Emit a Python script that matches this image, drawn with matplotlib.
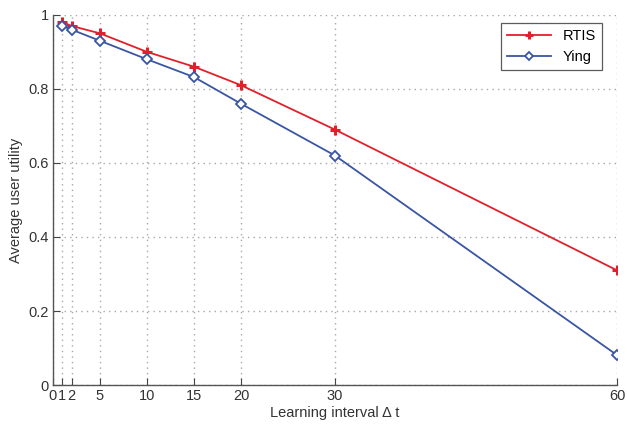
import matplotlib
matplotlib.use("Agg")
import matplotlib.pyplot as plt

plt.rcParams['font.family'] = ['Liberation Sans', 'DejaVu Sans']

x = [1, 2, 5, 10, 15, 20, 30, 60]
rtis = [0.98, 0.97, 0.95, 0.90, 0.86, 0.81, 0.69, 0.31]
ying = [0.97, 0.96, 0.93, 0.88, 0.832, 0.76, 0.62, 0.081]
xticks = [0, 1, 2, 5, 10, 15, 20, 30, 60]
yticks = [0, 0.2, 0.4, 0.6, 0.8, 1]
yticklabels = ['0', '0.2', '0.4', '0.6', '0.8', '1']

fig = plt.figure(figsize=(6.27, 4.25), dpi=100)
ax = fig.add_axes([0.0845, 0.094, 0.8995, 0.871])

red = '#e0202a'
blue = '#3a55a4'
ax.plot(x, rtis, color=red, lw=1.3, marker='+', ms=7, mew=2.2, label='RTIS')
ax.plot(x, ying, color=blue, lw=1.3, marker='D', ms=5.5, mfc='white', mec=blue, mew=1.3, label='Ying')

ax.set_xlim(0, 60)
ax.set_ylim(0, 1)
ax.set_xticks(xticks)
ax.set_xticklabels([str(t) for t in xticks])
ax.set_yticks(yticks)
ax.set_yticklabels(yticklabels)
ax.grid(True, linestyle=(0, (1, 3)), color='#a8a8a8', linewidth=1.0)
ax.tick_params(direction='in', length=5, color='#444444', labelsize=10.5, labelcolor='#333333', pad=3)
for s in ['top', 'right']:
    ax.spines[s].set_visible(False)
for s in ['left', 'bottom']:
    ax.spines[s].set_color('#555555')
    ax.spines[s].set_linewidth(1.0)

ax.set_xlabel('Learning interval \u0394 t', fontsize=10.5, color='#333333', labelpad=2)
ax.set_ylabel('Average user utility', fontsize=10.5, color='#333333', labelpad=4)

leg = ax.legend(loc='upper right', fontsize=10.5, frameon=True, fancybox=False,
                edgecolor='#333333', borderpad=0.4, handlelength=3.0, markerscale=0.8,
                borderaxespad=0, bbox_to_anchor=(0.973, 0.978))
leg.get_frame().set_linewidth(0.9)

fig.savefig('out.png', dpi=100)
